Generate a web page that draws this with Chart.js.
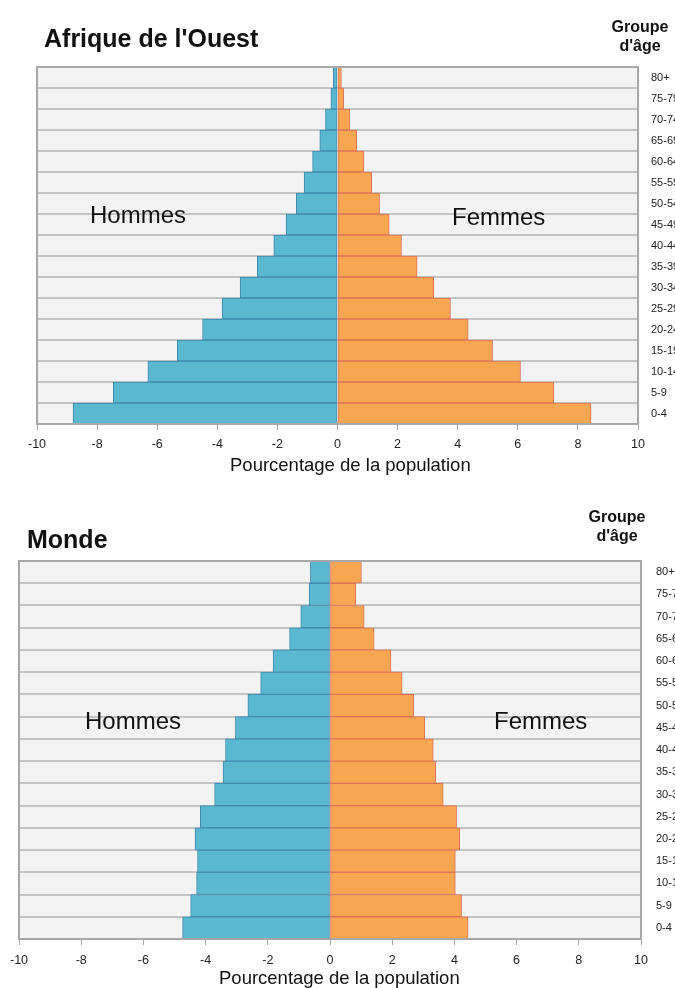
<!DOCTYPE html>
<html>
<head>
<meta charset="utf-8">
<script src="https://cdn.jsdelivr.net/npm/chart.js@4/dist/chart.umd.min.js"></script>
<style>
html,body{margin:0;padding:0;background:#fff;width:675px;height:988px;overflow:hidden;}
#wrap{position:relative;width:675px;height:988px;}
canvas{position:absolute;left:0;}
.t{position:absolute;white-space:nowrap;line-height:1;font-family:'Liberation Sans',Arial,sans-serif;color:#111;}
.h{font-weight:bold;font-size:25px;}
.sx{font-size:24px;}
.ax{font-size:18.5px;}
.grp{font-family:'Liberation Sans Narrow','Liberation Sans',Arial,sans-serif;font-weight:bold;font-size:16px;line-height:19px;text-align:center;width:80px;}
</style>
</head>
<body>
<div id="wrap">
  <canvas id="c1" width="675" height="480" style="top:0;width:675px;height:480px"></canvas>
  <canvas id="c2" width="675" height="498" style="top:490px;width:675px;height:498px"></canvas>

  <div class="t h" style="left:44px;top:26px">Afrique de l'Ouest</div>
  <div class="t grp" style="left:600px;top:17px">Groupe<br>d'âge</div>
  <div class="t sx" style="left:90px;top:203px">Hommes</div>
  <div class="t sx" style="left:452px;top:205px">Femmes</div>
  <div class="t ax" style="left:230px;top:456px">Pourcentage de la population</div>

  <div class="t h" style="left:27px;top:527px">Monde</div>
  <div class="t grp" style="left:577px;top:507px">Groupe<br>d'âge</div>
  <div class="t sx" style="left:85px;top:709px">Hommes</div>
  <div class="t sx" style="left:494px;top:709px">Femmes</div>
  <div class="t ax" style="left:219px;top:969px">Pourcentage de la population</div>
</div>
<script>
// ---- Data ----
const ageGroups = ['80+','75-79','70-74','65-69','60-64','55-59','50-54','45-49','40-44','35-39','30-34','25-29','20-24','15-19','10-14','5-9','0-4'];

const westAfricaMen   = [-0.14,-0.22,-0.40,-0.59,-0.83,-1.11,-1.37,-1.71,-2.12,-2.67,-3.24,-3.84,-4.49,-5.33,-6.31,-7.46,-8.80];
const westAfricaWomen = [ 0.13, 0.21, 0.41, 0.64, 0.88, 1.14, 1.40, 1.72, 2.13, 2.65, 3.20, 3.76, 4.35, 5.16, 6.09, 7.20, 8.44];

const worldMen   = [-0.63,-0.67,-0.94,-1.30,-1.83,-2.23,-2.64,-3.04,-3.36,-3.44,-3.71,-4.17,-4.34,-4.26,-4.29,-4.48,-4.74];
const worldWomen = [ 1.01, 0.83, 1.10, 1.42, 1.96, 2.32, 2.69, 3.05, 3.32, 3.40, 3.64, 4.07, 4.17, 4.03, 4.03, 4.23, 4.44];

const xTickValues = [-10,-8,-6,-4,-2,0,2,4,6,8,10];

// ---- Styling ----
const FONT = "'Liberation Sans', Arial, sans-serif";
const MEN_FILL = '#5bb8d1', MEN_BORDER = '#4189ad';
const WOMEN_FILL = '#f9a653', WOMEN_BORDER = '#de7258';

const plotFrame = {
  id: 'plotFrame',
  beforeDraw(chart) {
    const {ctx, chartArea: a} = chart;
    ctx.save();
    ctx.fillStyle = '#f3f3f3';
    ctx.fillRect(a.left, a.top, a.right - a.left, a.bottom - a.top);
    ctx.restore();
  },
  afterDraw(chart) {
    const {ctx, chartArea: a} = chart;
    ctx.save();
    ctx.strokeStyle = '#a8a8a8';
    ctx.lineWidth = 2;
    ctx.strokeRect(a.left, a.top, a.right - a.left, a.bottom - a.top);
    ctx.restore();
  }
};

function makePyramid(id, men, women, o) {
  return new Chart(document.getElementById(id), {
    type: 'bar',
    data: {
      labels: ageGroups,
      datasets: [
        {label: 'Hommes', data: men, backgroundColor: MEN_FILL, borderColor: MEN_BORDER,
         borderWidth: 1, borderSkipped: false, categoryPercentage: 1, barPercentage: 1},
        {label: 'Femmes', data: women, backgroundColor: WOMEN_FILL, borderColor: WOMEN_BORDER,
         borderWidth: 1, borderSkipped: false, categoryPercentage: 1, barPercentage: 1}
      ]
    },
    options: {
      indexAxis: 'y',
      responsive: false,
      animation: false,
      events: [],
      layout: {padding: {top: o.top, left: o.left, right: 0, bottom: 0}},
      plugins: {legend: {display: false}, tooltip: {enabled: false}, title: {display: false}},
      scales: {
        x: {
          type: 'linear', stacked: true, min: -10, max: 10,
          afterBuildTicks(s) { s.ticks = xTickValues.map(v => ({value: v})); },
          afterFit(s) { s.height = o.xh; },
          grid: {drawOnChartArea: false, drawTicks: true, tickLength: 6, color: '#a8a8a8', lineWidth: 1},
          border: {display: true, color: '#a8a8a8', width: 2},
          ticks: {padding: o.tp, color: '#222', font: {family: FONT, size: 12.5}, maxRotation: 0, autoSkip: false}
        },
        y: {
          type: 'category', position: 'right', stacked: true, offset: true,
          afterFit(s) { s.width = o.yw; },
          grid: {offset: true, color: '#c4c4c4', lineWidth: 2, drawTicks: false},
          border: {display: true, color: '#a8a8a8', width: 2},
          ticks: {padding: o.lp, color: '#222', font: {family: FONT, size: 11}, autoSkip: false}
        }
      }
    },
    plugins: [plotFrame]
  });
}

makePyramid('c1', westAfricaMen, westAfricaWomen, {top: 67, left: 37, yw: 37, xh: 56, tp: 7, lp: 13});
makePyramid('c2', worldMen, worldWomen, {top: 71, left: 19, yw: 34, xh: 49, tp: 8, lp: 15});
</script>
</body>
</html>
